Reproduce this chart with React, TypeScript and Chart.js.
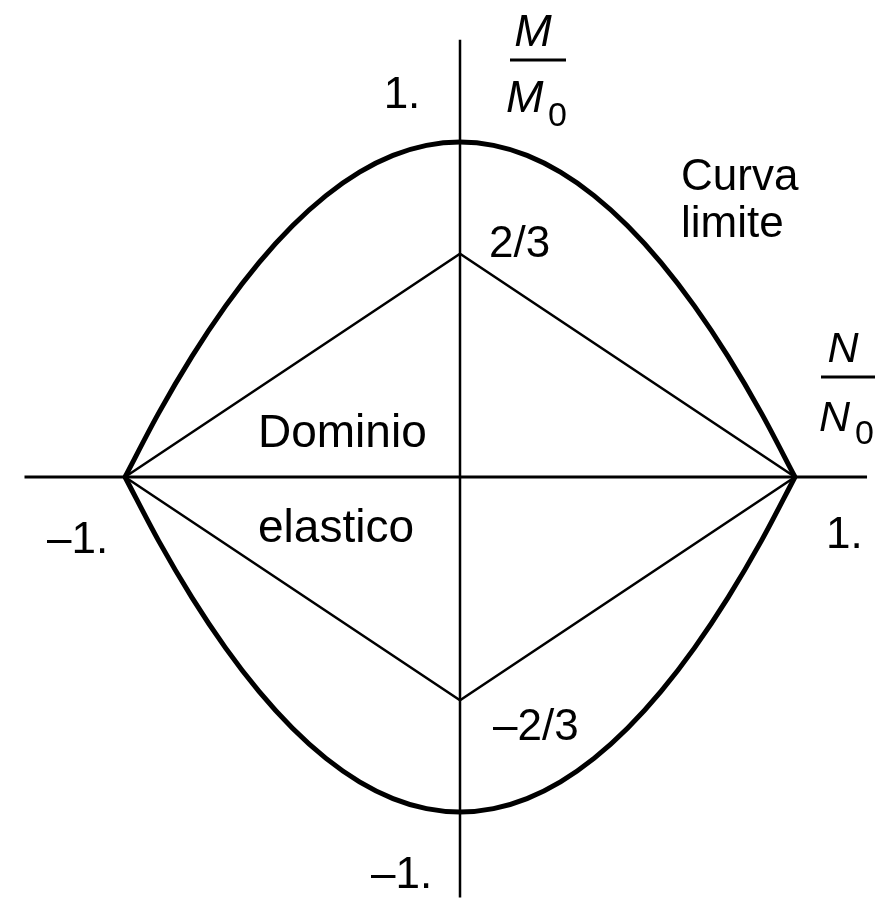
import React, { useEffect, useRef } from "react";
import { Chart, registerables } from "chart.js";

Chart.register(...registerables);

// Normalised axial force N/N0 sampled along the limit curve
const nValues = [-1, -0.9, -0.8, -0.7, -0.6, -0.5, -0.4, -0.3, -0.2, -0.1, 0, 0.1, 0.2, 0.3, 0.4, 0.5, 0.6, 0.7, 0.8, 0.9, 1];
// Upper branch of the limit curve M/M0
const mUpper = [0, 0.19, 0.36, 0.51, 0.64, 0.75, 0.84, 0.91, 0.96, 0.99, 1, 0.99, 0.96, 0.91, 0.84, 0.75, 0.64, 0.51, 0.36, 0.19, 0];
// Lower branch of the limit curve
const mLower = [0, -0.19, -0.36, -0.51, -0.64, -0.75, -0.84, -0.91, -0.96, -0.99, -1, -0.99, -0.96, -0.91, -0.84, -0.75, -0.64, -0.51, -0.36, -0.19, 0];
// Elastic domain (diamond) vertices
const elasticN = [-1, 0, 1, 0, -1];
const elasticM = [0, 2 / 3, 0, -2 / 3, 0];
// Axis extents
const axisNExtent = [-1.3, 1.215];
const axisMExtent = [1.305, -1.255];

// Text labels
const labelTop1 = "1.";
const labelM = "M";
const labelSub0 = "0";
const labelCurva = "Curva";
const labelLimite = "limite";
const label23 = "2/3";
const labelN = "N";
const labelDominio = "Dominio";
const labelElastico = "elastico";
const labelMinus1Left = "\u20131.";
const label1Right = "1.";
const labelMinus23 = "\u20132/3";
const labelMinus1Bottom = "\u20131.";

const toPts = (xs: number[], ys: number[]) => xs.map((x, i) => ({ x, y: ys[i] }));

const textPlugin = {
  id: "textLabels",
  afterDatasetsDraw(chart: any) {
    const ctx = chart.ctx as CanvasRenderingContext2D;
    ctx.save();
    ctx.fillStyle = "#000";
    ctx.strokeStyle = "#000";
    ctx.textBaseline = "alphabetic";
    const sans = '"Liberation Sans", Arial, sans-serif';
    const txt = (t: string, x: number, y: number, size: number, align: CanvasTextAlign = "left", italic = false) => {
      ctx.font = `${italic ? "italic " : ""}${size}px ${sans}`;
      ctx.textAlign = align;
      ctx.fillText(t, x, y);
    };
    // top "1."
    txt(labelTop1, 402, 108, 44, "center");
    // M / M0
    txt(labelM, 533, 46, 45, "center", true);
    ctx.lineWidth = 3;
    ctx.beginPath();
    ctx.moveTo(510, 60);
    ctx.lineTo(566, 60);
    ctx.stroke();
    txt(labelM, 506, 112, 45, "left", true);
    txt(labelSub0, 548, 126, 34, "left");
    // Curva limite
    txt(labelCurva, 681, 190, 44);
    txt(labelLimite, 681, 237, 44);
    // 2/3
    txt(label23, 489, 257, 44);
    // N / N0
    txt(labelN, 843, 362, 43, "center", true);
    ctx.beginPath();
    ctx.moveTo(821, 377);
    ctx.lineTo(875, 377);
    ctx.stroke();
    txt(labelN, 819, 431, 43, "left", true);
    txt(labelSub0, 855, 444, 34, "left");
    // Dominio elastico
    txt(labelDominio, 258, 447, 46);
    txt(labelElastico, 258, 542, 46);
    // axis values
    txt(labelMinus1Left, 47, 553, 44);
    txt(label1Right, 826, 548, 44);
    txt(labelMinus23, 493, 740, 44);
    txt(labelMinus1Bottom, 371, 888, 44);
    ctx.restore();
  },
};

export default function App() {
  const canvasRef = useRef<HTMLCanvasElement | null>(null);

  useEffect(() => {
    const canvas = canvasRef.current;
    if (!canvas) return;
    const chart = new Chart(canvas, {
      type: "scatter",
      data: {
        datasets: [
          {
            label: "asse N",
            data: toPts(axisNExtent, [0, 0]),
            showLine: true,
            borderColor: "#000",
            borderWidth: 3,
            pointRadius: 0,
          },
          {
            label: "asse M",
            data: toPts([0, 0], axisMExtent),
            showLine: true,
            borderColor: "#000",
            borderWidth: 2.5,
            pointRadius: 0,
          },
          {
            label: "Dominio elastico",
            data: toPts(elasticN, elasticM),
            showLine: true,
            borderColor: "#000",
            borderWidth: 2.5,
            pointRadius: 0,
            tension: 0,
          },
          {
            label: "Curva limite sup",
            data: toPts(nValues, mUpper),
            showLine: true,
            borderColor: "#000",
            borderWidth: 5,
            pointRadius: 0,
            cubicInterpolationMode: "monotone",
          },
          {
            label: "Curva limite inf",
            data: toPts(nValues, mLower),
            showLine: true,
            borderColor: "#000",
            borderWidth: 5,
            pointRadius: 0,
            cubicInterpolationMode: "monotone",
          },
        ],
      },
      options: {
        responsive: false,
        animation: false,
        layout: { padding: 0 },
        plugins: {
          legend: { display: false },
          tooltip: { enabled: false },
        },
        scales: {
          x: { type: "linear", min: -460 / 335, max: 423 / 335, display: false },
          y: { type: "linear", min: -431 / 335, max: 477 / 335, display: false },
        },
        events: [],
      },
      plugins: [textPlugin],
    });
    return () => chart.destroy();
  }, []);

  return (
    <div style={{ position: "absolute", left: 0, top: 0, width: 883, height: 908, background: "#fff" }}>
      <canvas ref={canvasRef} width={883} height={908} style={{ display: "block" }} />
    </div>
  );
}
